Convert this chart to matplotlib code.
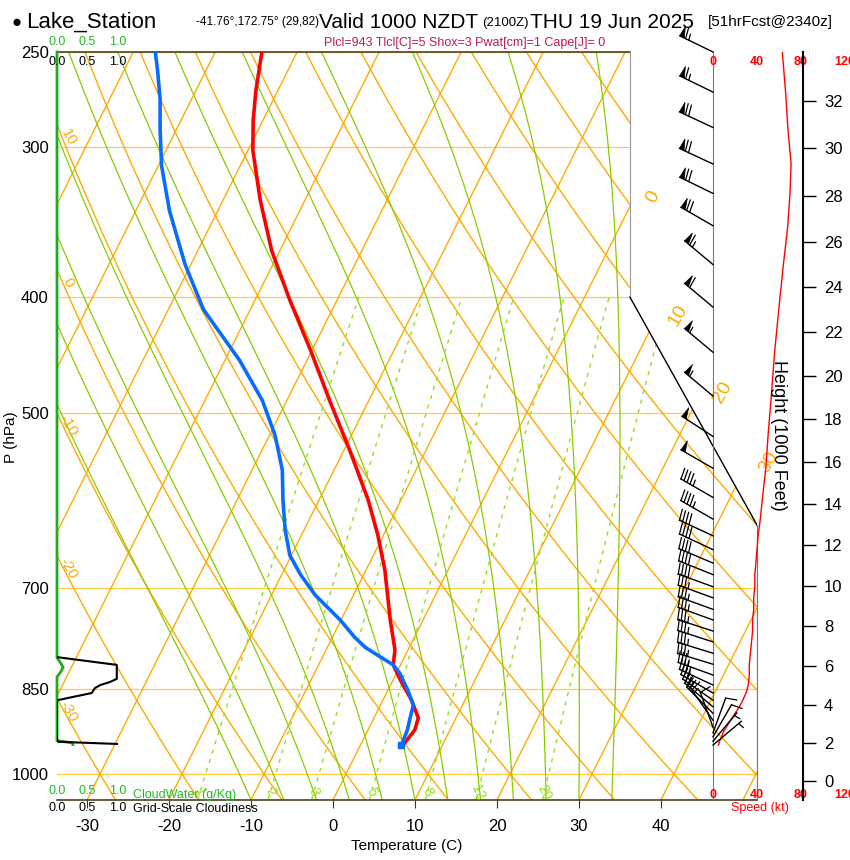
import numpy as np
import matplotlib
matplotlib.use("Agg")
import matplotlib.pyplot as plt
from matplotlib.patches import Polygon

plt.rcParams["font.family"] = "Liberation Sans"

# temperature profile (hPa, C)
t_pres = [946, 919, 898, 868, 835, 811, 788, 744, 676, 632, 591, 537, 488,
          443, 403, 366, 332, 302, 285, 269, 250]
t_temp = [5.2, 5.7, 5.4, 3.5, 0.9, -0.9, -1.6, -4.0, -7.7, -10.7, -14.0, -19.3,
          -24.8, -30.2, -35.7, -41.0, -45.5, -49.4, -51.2, -52.7, -54.3]

# dewpoint profile
d_pres = [946, 919, 898, 876, 851, 824, 811, 796, 784, 769, 744, 709, 682, 657,
          626, 591, 558, 522, 488, 452, 410, 376, 339, 311, 290, 274, 259, 250]
d_temp = [5.0, 4.8, 4.4, 4.0, 2.4, 0.4, -0.9, -3.4, -5.4, -7.3, -10.1, -14.7,
          -17.7, -20.2, -22.3, -24.4, -26.3, -29.3, -33.0, -38.2, -45.7, -50.7,
          -55.9, -59.6, -62.0, -63.8, -65.9, -67.3]

# winds
w_pres = [250, 270, 289, 310, 328, 349, 376, 408, 445, 484, 523, 556, 588, 613,
          633, 650, 667, 682, 698, 713, 729, 744, 760, 776, 793, 810, 827, 843,
          856, 868, 879, 890, 902, 914, 924, 931, 939, 946]
w_spd = [63, 66, 68, 71, 70, 68, 64, 60, 56, 53, 50, 48, 45, 43, 41, 40, 39, 38,
         38, 37, 37, 36, 36, 35, 34, 33, 33, 32, 30, 27, 24, 20, 16, 12, 9, 8, 6, 5]
w_dir = [296, 296, 295, 295, 296, 300, 310, 310, 310, 310, 303, 300, 300, 300,
         295, 295, 293, 292, 290, 290, 290, 290, 288, 288, 287, 287, 290, 295,
         300, 305, 310, 315, 325, 340, 20, 30, 40, 50]

# cloud
c_pres = [799, 811, 833, 838, 843, 848, 856, 868, 935, 940, 944]
c_frac = [0.0, 0.98, 0.98, 0.87, 0.71, 0.62, 0.57, 0.0, 0.0, 0.02, 1.0]
cw_pres = [250, 800, 808, 815, 822, 830, 900, 938, 942, 945]
cw_val = [0.0, 0.0, 0.06, 0.1, 0.06, 0.0, 0.0, 0.0, 0.26, 0.26]

isobars = [250, 300, 400, 500, 700, 850, 1000]
temp_ticks = [-30, -20, -10, 0, 10, 20, 30, 40]
mix_ratios = [1, 2, 3, 5, 8, 12, 20]
height_ticks = list(range(0, 34, 2))

PB = 1051.2
PT = 250.0
K = 31.77
XL, XR = -33.66, 51.71
XBOX = 36.22
ORANGE = "#ffaa00"
GREEN = "#88cc00"
PXLN = 521.0  # pixels per unit of ln(p)

W, H = 850, 860


def skx(T, p):
    return np.asarray(T) + K * np.log(PB / np.asarray(p, dtype=float))


def fx(x):
    return x / W


def fy(y):
    return 1 - y / H


def log_axes(rect):
    a = fig.add_axes(rect)
    a.set_yscale("log")
    a.set_ylim(PB, PT)
    return a


fig = plt.figure(figsize=(8.5, 8.6), dpi=100)
ax = log_axes([fx(57), fy(800), 700 / W, 748 / H])
ax.set_xlim(XL, XR)
for s in ax.spines.values():
    s.set_visible(False)

clip = Polygon([(XL, PT), (XBOX, PT), (XBOX, 400.3), (XR, 620), (XR, PB), (XL, PB)],
               closed=True, transform=ax.transData, fill=False, lw=0)
ax.add_patch(clip)

pp = np.geomspace(PB, PT, 300)
# isobars
for p in isobars:
    l, = ax.plot([XL, XR], [p, p], color="#ffcc44", lw=0.9)
    l.set_clip_path(clip)
# isotherms
for t in range(-120, 60, 10):
    l, = ax.plot(skx(t, pp), pp, color=ORANGE, lw=1.0)
    l.set_clip_path(clip)
# dry adiabats
for th in range(-40, 200, 10):
    tt = (th + 273.15) * (pp / 1000.0) ** 0.2857 - 273.15
    xs = skx(tt, pp)
    l, = ax.plot(xs, pp, color=ORANGE, lw=1.0)
    l.set_clip_path(clip)
    if -30 <= th <= 10:
        pl = np.interp(XL, xs[::-1], pp[::-1])
        ax.annotate(str(th), (XL, pl), xytext=(8, -9), textcoords="offset points",
                    color=ORANGE, fontsize=11, rotation=-60, ha="center", va="center")


# moist adiabats
def es(tc):
    return 6.112 * np.exp(17.67 * tc / (tc + 243.5))


for t0 in range(-10, 38, 4):
    T = t0 + 273.15
    ts = [T]
    for i in range(1, len(pp)):
        p = pp[i - 1]
        e = es(T - 273.15)
        rs = 0.622 * e / (p - e)
        dtdp = (287 * T + 2.5e6 * rs) / (1004 + 2.5e6 ** 2 * rs * 0.622 / (287 * T * T)) / p
        T = T + dtdp * (pp[i] - p)
        ts.append(T)
    l, = ax.plot(skx(np.array(ts) - 273.15, pp), pp, color=GREEN, lw=0.9)
    l.set_clip_path(clip)

# mixing ratio lines
pm = np.geomspace(PB, 400, 100)
for w in mix_ratios:
    e = w * pm / (622 + w)
    a = np.log(e / 6.112)
    td = 243.5 * a / (17.67 - a)
    l, = ax.plot(skx(td, pm), pm, color="#99dd22", lw=1.0, ls=(0, (3, 4)))
    l.set_clip_path(clip)
    e0 = w * 1035 / (622 + w)
    a0 = np.log(e0 / 6.112)
    ax.text(skx(243.5 * a0 / (17.67 - a0), 1035), 1035, str(w), color="#99dd22",
            fontsize=10, rotation=-65, ha="center", va="center")

# isotherm labels on the right
for t, p in [(0, 332), (10, 417), (20, 483), (30, 553)]:
    ax.annotate(str(t), (skx(t, p), p), xytext=(7, 2), textcoords="offset points",
                color=ORANGE, fontsize=14, rotation=60, ha="left", va="center")

# frame
ax.plot([XL, XBOX], [PT, PT], color="#4d4020", lw=1.2, clip_on=False)
ax.plot([XBOX, XBOX], [PT, 400.3], color="#999999", lw=0.8)
ax.plot([XBOX, XR], [400.3, 620], color="black", lw=1.0)
ax.plot([XR, XR], [620, PB], color="#999999", lw=0.8)
ax.plot([XL, XR], [PB, PB], color="#4d4020", lw=1.2, clip_on=False)

# profiles
ax.plot(skx(t_temp, t_pres), t_pres, color="red", lw=2.6, zorder=5)
ax.plot(skx(d_temp, d_pres), d_pres, color="#0a6cff", lw=2.6, zorder=6)
ax.plot(skx(d_temp[0], d_pres[0]), d_pres[0], "s", color="#0a6cff", ms=5, zorder=7)

ax.set_yticks(isobars)
ax.set_yticklabels([str(p) for p in isobars], fontsize=12)
ax.yaxis.set_minor_locator(matplotlib.ticker.NullLocator())
ax.tick_params(axis="y", length=0, pad=6)
ax.set_xticks([skx(t, PB) for t in temp_ticks])
ax.set_xticklabels([str(t) for t in temp_ticks], fontsize=12)
ax.tick_params(axis="x", length=6, direction="out", color="#333333", pad=8)
ax.set_xlabel("Temperature (C)", fontsize=11, labelpad=3)
fig.text(fx(11), fy(437), "P (hPa)", fontsize=11, rotation=90, ha="center", va="center")

# cloud panel
axc = log_axes([fx(57), fy(800), 61 / W, 748 / H])
axc.set_xlim(0, 1)
axc.axis("off")
axc.plot(cw_val, cw_pres, color="#22aa22", lw=2, clip_on=False)
axc.plot(c_frac, c_pres, color="black", lw=1.5)
tr = axc.get_xaxis_transform()
for v in [0.0, 0.5, 1.0]:
    axc.text(v, 1.006, f"{v:.1f}", color="#22bb22", fontsize=9, ha="center", va="bottom", transform=tr)
    axc.text(v, 0.995, f"{v:.1f}", color="black", fontsize=9, ha="center", va="top", transform=tr)
    axc.text(v, 0.004, f"{v:.1f}", color="#22bb22", fontsize=9, ha="center", va="bottom", transform=tr)
    axc.text(v, -0.003, f"{v:.1f}", color="black", fontsize=9, ha="center", va="top", transform=tr)
fig.text(fx(133), fy(795), "CloudWater (g/Kg)", color="#22bb22", fontsize=9, va="center")
fig.text(fx(133), fy(809), "Grid-Scale Cloudiness", color="black", fontsize=9, va="center")

# wind panel (speed profile on log-p axes)
axw = log_axes([fx(630), fy(800), 220 / W, 748 / H])
axw.set_xlim(-75.45, 124.55)
axw.axis("off")
axw.plot([0, 0], [PT, PB], color="#777777", lw=0.8)
axw.plot([40, 40], [620, PB], color="#777777", lw=0.8)
axw.plot(w_spd, w_pres, color="red", lw=1.0, zorder=6)
tr = axw.get_xaxis_transform()
for s in [0, 40, 80, 120]:
    axw.text(s, 0.987, str(s), color="red", fontsize=9, fontweight="bold", ha="center", va="center", transform=tr)
    axw.text(s, 0.007, str(s), color="red", fontsize=9, fontweight="bold", ha="center", va="center", transform=tr)
fig.text(fx(760), fy(808), "Speed (kt)", color="red", fontsize=9, ha="center", va="center")

# wind barbs, drawn on an axes whose units are pixels (y = PXLN * ln(PB/p))
axb = fig.add_axes([fx(630), fy(800), 220 / W, 748 / H])
axb.set_xlim(0, 220)
axb.set_ylim(0, PXLN * np.log(PB / PT))
axb.axis("off")
X0 = 83.0  # zero-speed line within the panel
L_SHAFT = 37.0
for p, spd, dr in zip(w_pres, w_spd, w_dir):
    th = np.deg2rad(dr)
    dvec = np.array([np.sin(th), np.cos(th)])
    nvec = np.array([dvec[1], -dvec[0]])
    base = np.array([X0, PXLN * np.log(PB / p)])
    tip = base + L_SHAFT * dvec
    axb.plot([base[0], tip[0]], [base[1], tip[1]], color="black", lw=1.0, clip_on=False)
    s = int(5 * round(spd / 5.0))
    n50, rem = divmod(s, 50)
    n10, rem = divmod(rem, 10)
    n5 = rem // 5
    pos = tip.copy()
    for _ in range(n50):
        tri = np.array([pos, pos + 11 * nvec - 1 * dvec, pos - 5 * dvec])
        axb.fill(tri[:, 0], tri[:, 1], color="black", lw=0.5, clip_on=False)
        pos = pos - 6.5 * dvec
    for _ in range(n10):
        end = pos + 11 * nvec + 2 * dvec
        axb.plot([pos[0], end[0]], [pos[1], end[1]], color="black", lw=0.9, clip_on=False)
        pos = pos - 3.5 * dvec
    if n5:
        if s < 10:
            pos = pos - 3.5 * dvec
        end = pos + 6 * nvec + 1 * dvec
        axb.plot([pos[0], end[0]], [pos[1], end[1]], color="black", lw=0.9, clip_on=False)

# height axis
hp = [1013.25 * (1 - 6.5e-3 * h * 304.8 / 288.15) ** 5.256 for h in height_ticks]
axh = log_axes([fx(803), fy(800), 0.0001, 748 / H])
for k in ["top", "bottom", "left"]:
    axh.spines[k].set_visible(False)
axh.spines["right"].set_linewidth(1.5)
axh.set_xticks([])
axh.yaxis.tick_right()
axh.set_yticks(hp)
axh.set_yticklabels([str(h) for h in height_ticks], fontsize=12)
axh.yaxis.set_minor_locator(matplotlib.ticker.NullLocator())
axh.tick_params(axis="y", length=9, width=1, pad=6)
fig.text(fx(778), fy(435), "Height (1000 Feet)", fontsize=13, rotation=-90, ha="center", va="center")

# header
fig.text(fx(12), fy(22), "\u25cf", fontsize=12, va="center")
fig.text(fx(26), fy(22), "Lake_Station", fontsize=16, va="center")
fig.text(fx(196), fy(22), "-41.76\u00b0,172.75\u00b0 (29,82)", fontsize=8.5, va="center")
fig.text(fx(319), fy(22), "Valid 1000 NZDT", fontsize=15, va="center")
fig.text(fx(482), fy(23), "(2100Z)", fontsize=9.5, va="center")
fig.text(fx(530), fy(22), "THU 19 Jun 2025", fontsize=15, va="center")
fig.text(fx(708), fy(22), "[51hrFcst@2340z]", fontsize=11, va="center")
fig.text(fx(465), fy(43), "Plcl=943 Tlcl[C]=5 Shox=3 Pwat[cm]=1 Cape[J]= 0",
         color="#c0185a", fontsize=9, ha="center", va="center")

fig.savefig("out.png", dpi=100)
